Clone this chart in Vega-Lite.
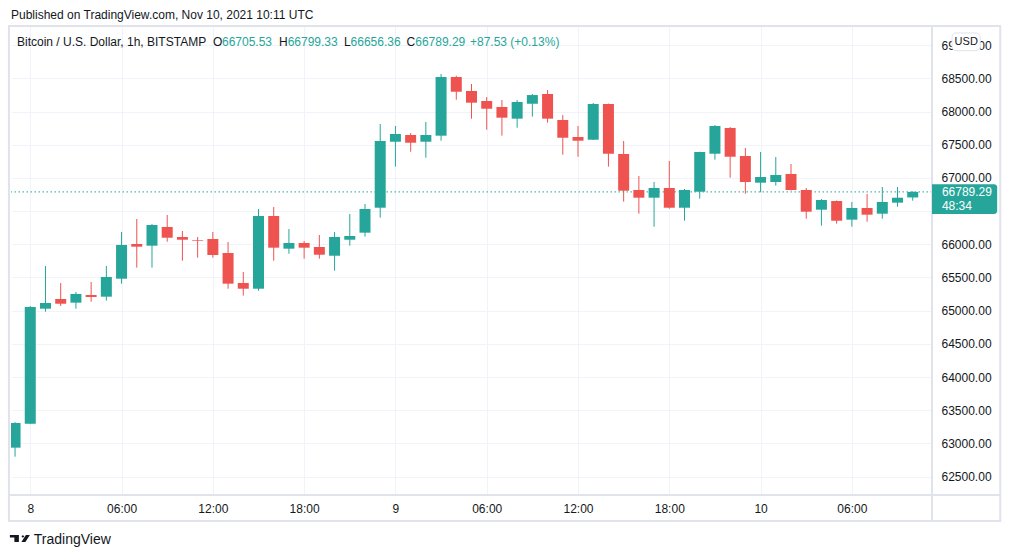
{
  "$schema": "https://vega.github.io/schema/vega-lite/v6.json",
  "autosize": {"type": "none"},
  "padding": {"left": 11, "top": 26, "right": 80, "bottom": 63},
  "width": 921,
  "height": 469,
  "background": "#ffffff",
  "title": {
    "text": "Published on TradingView.com, Nov 10, 2021 10:11 UTC",
    "anchor": "start",
    "frame": "group",
    "fontSize": 12,
    "fontWeight": "normal",
    "color": "#131722",
    "offset": 3
  },
  "config": {
    "font": "Liberation Sans",
    "view": {"stroke": null},
    "axis": {
      "gridColor": "#f0f3fa",
      "ticks": false,
      "domain": false,
      "labelColor": "#131722",
      "labelFontSize": 12,
      "labelOverlap": false
    }
  },
  "data": {
    "values": [
      {"t": "2021-11-07T23:00:00Z", "open": 62937, "high": 63320, "low": 62801, "close": 63309},
      {"t": "2021-11-08T00:00:00Z", "open": 63298, "high": 65070, "low": 63290, "close": 65056},
      {"t": "2021-11-08T01:00:00Z", "open": 65030, "high": 65673, "low": 64985, "close": 65116},
      {"t": "2021-11-08T02:00:00Z", "open": 65176, "high": 65417, "low": 65071, "close": 65105},
      {"t": "2021-11-08T03:00:00Z", "open": 65121, "high": 65282, "low": 65030, "close": 65252},
      {"t": "2021-11-08T04:00:00Z", "open": 65236, "high": 65432, "low": 65136, "close": 65206},
      {"t": "2021-11-08T05:00:00Z", "open": 65211, "high": 65673, "low": 65151, "close": 65508},
      {"t": "2021-11-08T06:00:00Z", "open": 65482, "high": 66185, "low": 65407, "close": 65990},
      {"t": "2021-11-08T07:00:00Z", "open": 66005, "high": 66381, "low": 65648, "close": 65964},
      {"t": "2021-11-08T08:00:00Z", "open": 65979, "high": 66306, "low": 65648, "close": 66291},
      {"t": "2021-11-08T09:00:00Z", "open": 66261, "high": 66441, "low": 66039, "close": 66099},
      {"t": "2021-11-08T10:00:00Z", "open": 66110, "high": 66200, "low": 65753, "close": 66069},
      {"t": "2021-11-08T11:00:00Z", "open": 66065, "high": 66110, "low": 65798, "close": 66055},
      {"t": "2021-11-08T12:00:00Z", "open": 66080, "high": 66185, "low": 65798, "close": 65839},
      {"t": "2021-11-08T13:00:00Z", "open": 65869, "high": 66035, "low": 65331, "close": 65407},
      {"t": "2021-11-08T14:00:00Z", "open": 65417, "high": 65583, "low": 65226, "close": 65331},
      {"t": "2021-11-08T15:00:00Z", "open": 65331, "high": 66532, "low": 65301, "close": 66426},
      {"t": "2021-11-08T16:00:00Z", "open": 66426, "high": 66562, "low": 65753, "close": 65949},
      {"t": "2021-11-08T17:00:00Z", "open": 65934, "high": 66230, "low": 65858, "close": 66020},
      {"t": "2021-11-08T18:00:00Z", "open": 66020, "high": 66050, "low": 65783, "close": 65949},
      {"t": "2021-11-08T19:00:00Z", "open": 65959, "high": 66140, "low": 65783, "close": 65843},
      {"t": "2021-11-08T20:00:00Z", "open": 65828, "high": 66185, "low": 65602, "close": 66110},
      {"t": "2021-11-08T21:00:00Z", "open": 66069, "high": 66456, "low": 65979, "close": 66125},
      {"t": "2021-11-08T22:00:00Z", "open": 66175, "high": 66607, "low": 66115, "close": 66532},
      {"t": "2021-11-08T23:00:00Z", "open": 66551, "high": 67812, "low": 66401, "close": 67556},
      {"t": "2021-11-09T00:00:00Z", "open": 67545, "high": 67782, "low": 67169, "close": 67661},
      {"t": "2021-11-09T01:00:00Z", "open": 67646, "high": 67676, "low": 67395, "close": 67530},
      {"t": "2021-11-09T02:00:00Z", "open": 67545, "high": 67842, "low": 67304, "close": 67646},
      {"t": "2021-11-09T03:00:00Z", "open": 67636, "high": 68565, "low": 67560, "close": 68520},
      {"t": "2021-11-09T04:00:00Z", "open": 68520, "high": 68539, "low": 68178, "close": 68298},
      {"t": "2021-11-09T05:00:00Z", "open": 68309, "high": 68414, "low": 67892, "close": 68133},
      {"t": "2021-11-09T06:00:00Z", "open": 68158, "high": 68218, "low": 67726, "close": 68042},
      {"t": "2021-11-09T07:00:00Z", "open": 68068, "high": 68173, "low": 67636, "close": 67907},
      {"t": "2021-11-09T08:00:00Z", "open": 67892, "high": 68173, "low": 67756, "close": 68143},
      {"t": "2021-11-09T09:00:00Z", "open": 68117, "high": 68264, "low": 67922, "close": 68248},
      {"t": "2021-11-09T10:00:00Z", "open": 68264, "high": 68324, "low": 67831, "close": 67892},
      {"t": "2021-11-09T11:00:00Z", "open": 67872, "high": 67947, "low": 67349, "close": 67605},
      {"t": "2021-11-09T12:00:00Z", "open": 67616, "high": 67782, "low": 67319, "close": 67560},
      {"t": "2021-11-09T13:00:00Z", "open": 67575, "high": 68128, "low": 67570, "close": 68113},
      {"t": "2021-11-09T14:00:00Z", "open": 68113, "high": 68120, "low": 67169, "close": 67364},
      {"t": "2021-11-09T15:00:00Z", "open": 67360, "high": 67556, "low": 66642, "close": 66807},
      {"t": "2021-11-09T16:00:00Z", "open": 66818, "high": 67029, "low": 66461, "close": 66702},
      {"t": "2021-11-09T17:00:00Z", "open": 66702, "high": 66938, "low": 66265, "close": 66848},
      {"t": "2021-11-09T18:00:00Z", "open": 66848, "high": 67255, "low": 66536, "close": 66551},
      {"t": "2021-11-09T19:00:00Z", "open": 66551, "high": 66833, "low": 66355, "close": 66818},
      {"t": "2021-11-09T20:00:00Z", "open": 66792, "high": 67395, "low": 66687, "close": 67390},
      {"t": "2021-11-09T21:00:00Z", "open": 67364, "high": 67797, "low": 67274, "close": 67782},
      {"t": "2021-11-09T22:00:00Z", "open": 67752, "high": 67767, "low": 67003, "close": 67319},
      {"t": "2021-11-09T23:00:00Z", "open": 67330, "high": 67450, "low": 66762, "close": 66938},
      {"t": "2021-11-10T00:00:00Z", "open": 66928, "high": 67390, "low": 66783, "close": 67014},
      {"t": "2021-11-10T01:00:00Z", "open": 66938, "high": 67315, "low": 66883, "close": 67044},
      {"t": "2021-11-10T02:00:00Z", "open": 67059, "high": 67209, "low": 66810, "close": 66818},
      {"t": "2021-11-10T03:00:00Z", "open": 66818, "high": 66848, "low": 66386, "close": 66491},
      {"t": "2021-11-10T04:00:00Z", "open": 66521, "high": 66682, "low": 66280, "close": 66667},
      {"t": "2021-11-10T05:00:00Z", "open": 66652, "high": 66660, "low": 66310, "close": 66355},
      {"t": "2021-11-10T06:00:00Z", "open": 66371, "high": 66637, "low": 66265, "close": 66547},
      {"t": "2021-11-10T07:00:00Z", "open": 66547, "high": 66758, "low": 66340, "close": 66446},
      {"t": "2021-11-10T08:00:00Z", "open": 66461, "high": 66863, "low": 66386, "close": 66637},
      {"t": "2021-11-10T09:00:00Z", "open": 66627, "high": 66863, "low": 66566, "close": 66701.76},
      {"t": "2021-11-10T10:00:00Z", "open": 66705.53, "high": 66799.33, "low": 66656.36, "close": 66789.29}
    ]
  },
  "layer": [
    {
      "mark": {"type": "rule", "strokeWidth": 1, "clip": true},
      "encoding": {
        "x": {
          "field": "t",
          "type": "temporal",
          "title": null,
          "scale": {"type": "utc", "domain": [1636325040000, 1636542960000], "padding": 0},
          "axis": {
            "orient": "bottom",
            "values": [1636329600000, 1636351200000, 1636372800000, 1636394400000, 1636416000000, 1636437600000, 1636459200000, 1636480800000, 1636502400000, 1636524000000],
            "tickCount": 40,
            "labelExpr": "utcFormat(datum.value, '%H') == '00' ? '' + utcdate(datum.value) : utcFormat(datum.value, '%H:%M')",
            "labelPadding": 8,
            "labelFlush": false,
            "labelOverlap": false,
            "grid": true
          }
        },
        "y": {
          "field": "low",
          "type": "quantitative",
          "title": null,
          "scale": {"domain": [62224, 69288], "nice": false, "zero": false, "padding": 0},
          "axis": {
            "orient": "right",
            "values": [62500, 63000, 63500, 64000, 64500, 65000, 65500, 66000, 66500, 67000, 67500, 68000, 68500, 69000],
            "tickCount": 40,
            "labelExpr": "datum.value == 66500 ? '' : format(datum.value, '.2f')",
            "labelPadding": 9,
            "labelOverlap": false,
            "grid": true
          }
        },
        "y2": {"field": "high"},
        "color": {
          "condition": {"test": "datum.close >= datum.open", "value": "#26a69a"},
          "value": "#ef5350"
        }
      }
    },
    {
      "mark": {"type": "rule", "color": "#26a69a", "strokeWidth": 1, "strokeDash": [1.5, 2.5], "clip": true},
      "data": {"values": [{}]},
      "encoding": {
        "y": {"datum": 66789.29, "type": "quantitative"}
      }
    },
    {
      "mark": {"type": "bar", "width": 11, "clip": true},
      "encoding": {
        "x": {"field": "t", "type": "temporal"},
        "y": {"field": "open", "type": "quantitative"},
        "y2": {"field": "close"},
        "color": {
          "condition": {"test": "datum.close >= datum.open", "value": "#26a69a"},
          "value": "#ef5350"
        }
      }
    },
    {
      "mark": {"type": "rect", "fillOpacity": 0, "stroke": "#e0e3eb", "strokeWidth": 2, "clip": false},
      "data": {"values": [{}]},
      "encoding": {
        "x": {"datum": 1636324560000, "type": "temporal"},
        "x2": {"datum": 1636559100000},
        "y": {"datum": 69288, "type": "quantitative"},
        "y2": {"datum": 61833}
      }
    },
    {
      "mark": {"type": "rule", "color": "#e0e3eb", "strokeWidth": 2, "clip": false},
      "data": {"values": [{}]},
      "encoding": {
        "x": {"datum": 1636542960000, "type": "temporal"},
        "y": {"datum": 69288, "type": "quantitative"},
        "y2": {"datum": 61833}
      }
    },
    {
      "mark": {"type": "rule", "color": "#e0e3eb", "strokeWidth": 2, "clip": false},
      "data": {"values": [{}]},
      "encoding": {
        "x": {"datum": 1636324560000, "type": "temporal"},
        "x2": {"datum": 1636559100000},
        "y": {"datum": 62224, "type": "quantitative"}
      }
    },
    {
      "mark": {"type": "rect", "color": "#26a69a", "cornerRadiusTopRight": 3, "cornerRadiusBottomRight": 3, "clip": false},
      "data": {"values": [{}]},
      "encoding": {
        "x": {"datum": 1636542960000, "type": "temporal"},
        "x2": {"datum": 1636558380000},
        "y": {"datum": 66904, "type": "quantitative"},
        "y2": {"datum": 66457}
      }
    },
    {
      "mark": {"type": "text", "align": "left", "baseline": "middle", "fontSize": 12, "color": "#ffffff", "clip": false},
      "data": {"values": [{}]},
      "encoding": {
        "x": {"datum": 1636545300000, "type": "temporal"},
        "y": {"datum": 66789.29, "type": "quantitative"},
        "text": {"value": "66789.29"}
      }
    },
    {
      "mark": {"type": "text", "align": "left", "baseline": "middle", "fontSize": 12, "color": "#ffffff", "clip": false},
      "data": {"values": [{}]},
      "encoding": {
        "x": {"datum": 1636545300000, "type": "temporal"},
        "y": {"datum": 66577, "type": "quantitative"},
        "text": {"value": "48:34"}
      }
    },
    {
      "mark": {"type": "rect", "fill": "#ffffff", "stroke": "#e0e3eb", "strokeWidth": 1, "cornerRadius": 4, "clip": false},
      "data": {"values": [{}]},
      "encoding": {
        "x": {"datum": 1636547700000, "type": "temporal"},
        "x2": {"datum": 1636554360000},
        "y": {"datum": 69183, "type": "quantitative"},
        "y2": {"datum": 68916}
      }
    },
    {
      "mark": {"type": "text", "align": "center", "baseline": "middle", "fontSize": 11, "color": "#131722", "clip": false},
      "data": {"values": [{}]},
      "encoding": {
        "x": {"datum": 1636551060000, "type": "temporal"},
        "y": {"datum": 69047, "type": "quantitative"},
        "text": {"value": "USD"}
      }
    },
    {
      "mark": {"type": "text", "align": "left", "baseline": "middle", "fontSize": 12, "color": "#131722"},
      "data": {"values": [{}]},
      "encoding": {
        "x": {"datum": 1636326450000, "type": "temporal"},
        "y": {"datum": 69047, "type": "quantitative"},
        "text": {"value": "Bitcoin / U.S. Dollar, 1h, BITSTAMP"}
      }
    },
    {
      "mark": {"type": "text", "align": "left", "baseline": "middle", "fontSize": 12, "color": "#131722"},
      "data": {"values": [{}]},
      "encoding": {
        "x": {"datum": 1636372860000, "type": "temporal"},
        "y": {"datum": 69047, "type": "quantitative"},
        "text": {"value": "O"}
      }
    },
    {
      "mark": {"type": "text", "align": "left", "baseline": "middle", "fontSize": 12, "color": "#26a69a"},
      "data": {"values": [{}]},
      "encoding": {
        "x": {"datum": 1636374960000, "type": "temporal"},
        "y": {"datum": 69047, "type": "quantitative"},
        "text": {"value": "66705.53"}
      }
    },
    {
      "mark": {"type": "text", "align": "left", "baseline": "middle", "fontSize": 12, "color": "#131722"},
      "data": {"values": [{}]},
      "encoding": {
        "x": {"datum": 1636388460000, "type": "temporal"},
        "y": {"datum": 69047, "type": "quantitative"},
        "text": {"value": "H"}
      }
    },
    {
      "mark": {"type": "text", "align": "left", "baseline": "middle", "fontSize": 12, "color": "#26a69a"},
      "data": {"values": [{}]},
      "encoding": {
        "x": {"datum": 1636390500000, "type": "temporal"},
        "y": {"datum": 69047, "type": "quantitative"},
        "text": {"value": "66799.33"}
      }
    },
    {
      "mark": {"type": "text", "align": "left", "baseline": "middle", "fontSize": 12, "color": "#131722"},
      "data": {"values": [{}]},
      "encoding": {
        "x": {"datum": 1636403820000, "type": "temporal"},
        "y": {"datum": 69047, "type": "quantitative"},
        "text": {"value": "L"}
      }
    },
    {
      "mark": {"type": "text", "align": "left", "baseline": "middle", "fontSize": 12, "color": "#26a69a"},
      "data": {"values": [{}]},
      "encoding": {
        "x": {"datum": 1636405380000, "type": "temporal"},
        "y": {"datum": 69047, "type": "quantitative"},
        "text": {"value": "66656.36"}
      }
    },
    {
      "mark": {"type": "text", "align": "left", "baseline": "middle", "fontSize": 12, "color": "#131722"},
      "data": {"values": [{}]},
      "encoding": {
        "x": {"datum": 1636418640000, "type": "temporal"},
        "y": {"datum": 69047, "type": "quantitative"},
        "text": {"value": "C"}
      }
    },
    {
      "mark": {"type": "text", "align": "left", "baseline": "middle", "fontSize": 12, "color": "#26a69a"},
      "data": {"values": [{}]},
      "encoding": {
        "x": {"datum": 1636420680000, "type": "temporal"},
        "y": {"datum": 69047, "type": "quantitative"},
        "text": {"value": "66789.29"}
      }
    },
    {
      "mark": {"type": "text", "align": "left", "baseline": "middle", "fontSize": 12, "color": "#26a69a"},
      "data": {"values": [{}]},
      "encoding": {
        "x": {"datum": 1636433640000, "type": "temporal"},
        "y": {"datum": 69047, "type": "quantitative"},
        "text": {"value": "+87.53 (+0.13%)"}
      }
    },
    {
      "mark": {
        "type": "point",
        "filled": true,
        "opacity": 1,
        "color": "#131722",
        "size": 400,
        "shape": "M-1,-0.35 H-0.1 V0.35 H-0.55 V-0.1 H-1 Z M0.6,-0.35 H1 L0.55,0.35 H0.15 Z M0.16,-0.2 L0.3,-0.34 L0.44,-0.2 L0.3,-0.06 Z",
        "clip": false
      },
      "data": {"values": [{}]},
      "encoding": {
        "x": {"datum": 1636327140000, "type": "temporal"},
        "y": {"datum": 61570, "type": "quantitative"}
      }
    },
    {
      "mark": {"type": "text", "align": "left", "baseline": "middle", "fontSize": 14, "color": "#131722", "clip": false},
      "data": {"values": [{}]},
      "encoding": {
        "x": {"datum": 1636330440000, "type": "temporal"},
        "y": {"datum": 61547, "type": "quantitative"},
        "text": {"value": "TradingView"}
      }
    }
  ]
}
